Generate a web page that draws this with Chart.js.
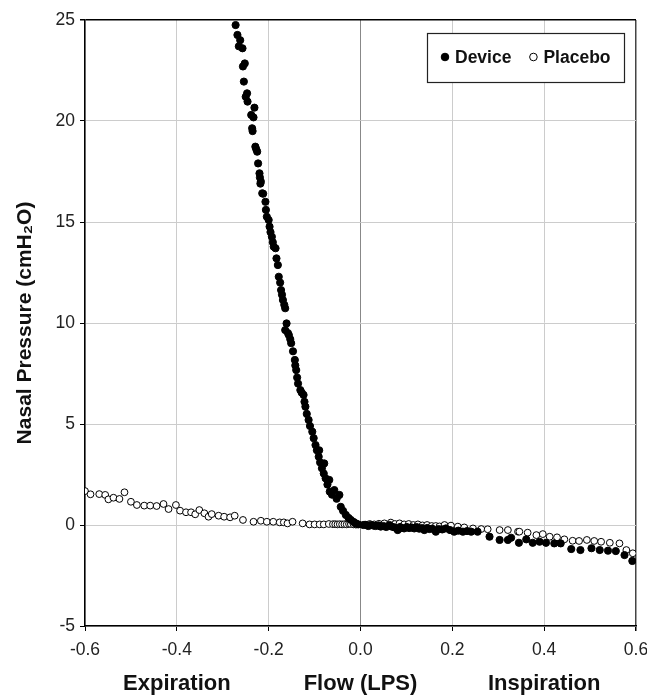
<!DOCTYPE html>
<html>
<head>
<meta charset="utf-8">
<script src="https://cdn.jsdelivr.net/npm/chart.js@4.4.1/dist/chart.umd.min.js"></script>
<style>
  html, body { margin: 0; padding: 0; background: #fff; }
  #wrap { width: 647px; height: 696px; }
</style>
</head>
<body>
<div id="wrap"><canvas id="scatter" width="647" height="696"></canvas></div>
<script>
const seriesNames = ['Device', 'Placebo'];
const xTitle = 'Flow (LPS)';
const yTitle = 'Nasal Pressure (cmH\u2082O)';
const sideLabels = [['Expiration', -0.4], ['Inspiration', 0.4]];

const deviceFlow = [
  -0.272, -0.268, -0.262, -0.265, -0.257, -0.252, -0.256, -0.254, -0.247, -0.250,
  -0.246, -0.231, -0.238, -0.233, -0.236, -0.235, -0.229, -0.227, -0.225, -0.223,
  -0.220, -0.219, -0.217, -0.218, -0.214, -0.212, -0.207, -0.206, -0.204, -0.200,
  -0.198, -0.196, -0.193, -0.191, -0.189, -0.185, -0.183, -0.180, -0.178, -0.175,
  -0.173, -0.171, -0.169, -0.166, -0.164, -0.161, -0.164, -0.158, -0.156, -0.153,
  -0.151, -0.147, -0.143, -0.142, -0.140, -0.138, -0.136, -0.131, -0.128, -0.124,
  -0.122, -0.120, -0.117, -0.113, -0.110, -0.105, -0.102, -0.098, -0.095, -0.091,
  -0.088, -0.084, -0.080, -0.076, -0.072, -0.067, -0.062, -0.057, -0.052, -0.046,
  -0.043, -0.038, -0.032, -0.026, -0.021, -0.015, -0.010, -0.005, -0.090, -0.079,
  -0.068,
  0.006, 0.012, 0.017, 0.022, 0.028, 0.033, 0.039, 0.044, 0.050, 0.056,
  0.063, 0.068, 0.074, 0.081, 0.086, 0.090, 0.095, 0.101, 0.106, 0.111,
  0.117, 0.122, 0.128, 0.133, 0.139, 0.145, 0.150, 0.156, 0.164, 0.170,
  0.178, 0.186, 0.195, 0.204, 0.213, 0.223, 0.232, 0.241, 0.255, 0.281,
  0.303, 0.321, 0.328, 0.345, 0.361, 0.375, 0.390, 0.404, 0.422, 0.436,
  0.459, 0.479, 0.503, 0.521, 0.539, 0.556, 0.575, 0.592
];
const devicePressure = [
  24.75, 24.26, 24.0, 23.7, 23.6, 22.85, 22.7, 21.95, 21.37, 21.2,
  20.96, 20.66, 20.3, 20.18, 19.64, 19.5, 18.73, 18.6, 18.48, 17.9,
  17.41, 17.2, 17.0, 16.9, 16.42, 16.4, 16.0, 15.6, 15.26, 15.1,
  14.77, 14.5, 14.27, 14.0, 13.78, 13.7, 13.2, 12.87, 12.29, 12.0,
  11.63, 11.4, 11.14, 10.9, 10.73, 9.98, 9.65, 9.5, 9.4, 9.2,
  9.0, 8.6, 8.17, 7.9, 7.67, 7.3, 7.0, 6.68, 6.55, 6.44,
  6.1, 5.86, 5.5, 5.2, 4.9, 4.62, 4.3, 3.96, 3.7, 3.38,
  3.1, 2.81, 2.55, 2.31, 2.0, 1.65, 1.5, 1.73, 1.3, 1.49,
  0.9, 0.7, 0.5, 0.35, 0.25, 0.15, 0.08, 0.03, 3.7, 3.05,
  2.23,
  0.0, 0.0, -0.05, 0.0, -0.03, -0.05, -0.02, -0.08, -0.05, -0.1,
  0.0, -0.08, -0.12, -0.25, -0.1, -0.15, -0.17, -0.1, -0.15, -0.12,
  -0.17, -0.1, -0.18, -0.15, -0.25, -0.15, -0.2, -0.18, -0.33, -0.2,
  -0.22, -0.17, -0.25, -0.33, -0.28, -0.33, -0.3, -0.33, -0.33, -0.58,
  -0.74, -0.74, -0.63, -0.88, -0.71, -0.88, -0.83, -0.88, -0.91, -0.91,
  -1.19, -1.24, -1.15, -1.24, -1.27, -1.29, -1.49, -1.78
];

const placeboFlow = [
  -0.600, -0.588, -0.569, -0.556, -0.549, -0.538, -0.525, -0.514, -0.500, -0.487,
  -0.471, -0.458, -0.444, -0.429, -0.418, -0.402, -0.393, -0.380, -0.369, -0.360,
  -0.351, -0.340, -0.331, -0.324, -0.309, -0.297, -0.284, -0.274, -0.256, -0.233,
  -0.217, -0.204, -0.190, -0.176, -0.167, -0.159, -0.148, -0.126, -0.111, -0.100,
  -0.089, -0.080, -0.069, -0.060, -0.055, -0.050, -0.045, -0.040, -0.035, -0.030,
  -0.025, -0.021, -0.015, -0.010,
  0.010, 0.020, 0.030, 0.040, 0.052, 0.066, 0.075, 0.085, 0.095, 0.105,
  0.115, 0.125, 0.135, 0.145, 0.155, 0.164, 0.172, 0.183, 0.197, 0.212,
  0.226, 0.245, 0.263, 0.277, 0.303, 0.321, 0.343, 0.346, 0.364, 0.383,
  0.397, 0.412, 0.428, 0.444, 0.462, 0.476, 0.493, 0.509, 0.524, 0.543,
  0.564, 0.579, 0.593
];
const placeboPressure = [
  1.68, 1.52, 1.53, 1.49, 1.27, 1.35, 1.29, 1.62, 1.15, 0.99,
  0.96, 0.96, 0.94, 1.04, 0.79, 0.99, 0.71, 0.63, 0.63, 0.53,
  0.74, 0.58, 0.41, 0.54, 0.46, 0.41, 0.38, 0.46, 0.25, 0.16,
  0.21, 0.16, 0.16, 0.13, 0.13, 0.08, 0.16, 0.08, 0.03, 0.03,
  0.03, 0.03, 0.05, 0.04, 0.04, 0.03, 0.04, 0.03, 0.04, 0.03,
  0.05, 0.05, 0.03, 0.02,
  0.02, 0.05, 0.03, 0.06, 0.08, 0.12, 0.05, 0.08, 0.03, 0.05,
  0.0, 0.03, -0.02, 0.0, -0.05, -0.05, -0.07, 0.0, -0.03, -0.08,
  -0.12, -0.17, -0.2, -0.21, -0.25, -0.25, -0.33, -0.33, -0.38, -0.5,
  -0.45, -0.58, -0.61, -0.71, -0.78, -0.79, -0.74, -0.79, -0.83, -0.88,
  -0.91, -1.24, -1.4
];

const xTicks = [-0.6, -0.4, -0.2, 0.0, 0.2, 0.4, 0.6];
const yTicks = [-5, 0, 5, 10, 15, 20, 25];

const FONT = "'Liberation Sans', Arial, sans-serif";

function pairs(xs, ys) {
  return xs.map((x, i) => ({ x: x, y: ys[i] }));
}

// legend box inside the plot, top right
const boxLegend = {
  id: 'boxLegend',
  afterDraw(chart) {
    const ctx = chart.ctx;
    const a = chart.chartArea;
    const w = 197, h = 49;
    const left = a.right - 12 - w, top = a.top + 13;
    ctx.save();
    ctx.fillStyle = '#fff';
    ctx.fillRect(left, top, w, h);
    ctx.strokeStyle = '#222';
    ctx.lineWidth = 1.2;
    ctx.strokeRect(left + 0.5, top + 0.5, w, h);
    ctx.font = "bold 17.5px " + FONT;
    ctx.textBaseline = 'middle';
    let x = left + 18;
    const cy = top + 24;
    chart.data.datasets.forEach((ds) => {
      ctx.beginPath();
      ctx.arc(x, cy, 3.8, 0, Math.PI * 2);
      ctx.fillStyle = ds.pointBackgroundColor;
      ctx.fill();
      ctx.lineWidth = 1;
      ctx.strokeStyle = '#000';
      ctx.stroke();
      ctx.fillStyle = '#111';
      ctx.fillText(ds.label, x + 10, cy + 1);
      x += 10 + ctx.measureText(ds.label).width + 22;
    });
    ctx.restore();
  }
};

// Expiration / Inspiration under the x axis
const sideText = {
  id: 'sideText',
  afterDraw(chart) {
    const ctx = chart.ctx;
    const xs = chart.scales.x;
    ctx.save();
    ctx.font = "bold 22px " + FONT;
    ctx.fillStyle = '#111';
    ctx.textAlign = 'center';
    ctx.textBaseline = 'middle';
    sideLabels.forEach(([t, v]) => {
      ctx.fillText(t, xs.getPixelForValue(v), 684);
    });
    ctx.restore();
  }
};

new Chart(document.getElementById('scatter'), {
  type: 'scatter',
  data: {
    datasets: [{
      label: seriesNames[0],
      data: pairs(deviceFlow, devicePressure),
      pointRadius: 3.6,
      pointBackgroundColor: '#000',
      pointBorderColor: '#000',
      pointBorderWidth: 1
    }, {
      label: seriesNames[1],
      data: pairs(placeboFlow, placeboPressure),
      pointRadius: 3.4,
      pointBackgroundColor: '#fff',
      pointBorderColor: '#000',
      pointBorderWidth: 1
    }]
  },
  options: {
    responsive: false,
    animation: false,
    layout: { padding: { left: 13, right: 11, top: 20, bottom: 0 } },
    plugins: {
      legend: { display: false },
      tooltip: { enabled: false }
    },
    scales: {
      x: {
        type: 'linear',
        min: -0.6,
        max: 0.6,
        afterBuildTicks: s => { s.ticks = xTicks.map(v => ({ value: v })); },
        afterFit: s => { s.height = 70; s.paddingLeft = 0; s.paddingRight = 0; },
        ticks: {
          color: '#222',
          font: { family: FONT, size: 17.5 },
          padding: 9,
          maxRotation: 0,
          callback: v => v.toFixed(1)
        },
        grid: {
          color: c => {
            const v = c.tick ? c.tick.value : null;
            if (v === null) return '#ccc';
            if (Math.abs(v) < 1e-9) return '#888';
            if (Math.abs(v - 0.6) < 1e-9) return '#444';
            return '#cccccc';
          },
          lineWidth: c => (c.tick && Math.abs(c.tick.value - 0.6) < 1e-9) ? 1.5 : 1,
          tickLength: 5,
          tickColor: '#000'
        },
        border: { color: '#000', width: 1.5 },
        title: {
          display: true,
          text: xTitle,
          color: '#111',
          font: { family: FONT, size: 22, weight: 'bold', lineHeight: 1.1 },
          padding: { top: 0, bottom: 0 }
        }
      },
      y: {
        type: 'linear',
        min: -5,
        max: 25,
        afterBuildTicks: s => { s.ticks = yTicks.map(v => ({ value: v })); },
        afterFit: s => { s.width = 72; s.paddingTop = 0; s.paddingBottom = 0; },
        ticks: {
          color: '#222',
          font: { family: FONT, size: 17.5 },
          padding: 5
        },
        grid: {
          color: c => (c.tick && c.tick.value === 25) ? '#000' : '#cccccc',
          lineWidth: c => (c.tick && c.tick.value === 25) ? 1.5 : 1,
          tickLength: 5,
          tickColor: '#000'
        },
        border: { color: '#000', width: 1.5 },
        title: {
          display: true,
          text: yTitle,
          color: '#111',
          font: { family: FONT, size: 21, weight: 'bold' },
          padding: { top: 0, bottom: 6 }
        }
      }
    }
  },
  plugins: [boxLegend, sideText]
});
</script>
</body>
</html>
